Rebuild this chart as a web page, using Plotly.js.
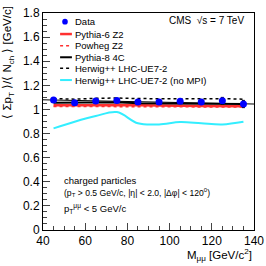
<!DOCTYPE html>
<html><head><meta charset="utf-8">
<script src="https://cdn.plot.ly/plotly-3.0.1.min.js"></script>
<style>html,body{margin:0;padding:0;background:#fff}#c{width:266px;height:266px}</style>
</head><body><div id="c"></div>
<script>
const mass = [45, 55, 65, 75, 85, 95, 105, 115, 125, 135];
const dataY = [1.078, 1.056, 1.070, 1.075, 1.061, 1.061, 1.067, 1.061, 1.072, 1.045];
const dataErr = [0.012, 0.010, 0.010, 0.012, 0.012, 0.012, 0.014, 0.018, 0.028, 0.030];
const pythia6 = [1.035, 1.033, 1.035, 1.037, 1.033, 1.030, 1.030, 1.028, 1.028, 1.027];
const powheg = [1.025, 1.024, 1.025, 1.027, 1.024, 1.022, 1.021, 1.020, 1.020, 1.020];
const pythia8 = [1.055, 1.055, 1.058, 1.060, 1.052, 1.050, 1.048, 1.047, 1.046, 1.045];
const herwig = [1.090, 1.085, 1.092, 1.095, 1.090, 1.088, 1.090, 1.088, 1.090, 1.085];
const herwigNoMPI = [0.843, 0.898, 0.945, 0.978, 0.885, 0.876, 0.895, 0.885, 0.876, 0.898];
const fitX = [40, 140];
const fitY = [1.080, 1.045];
const legendNames = ['Data', 'Pythia-6 Z2', 'Powheg Z2', 'Pythia-8 4C', 'Herwig++ LHC-UE7-2', 'Herwig++ LHC-UE7-2 (no MPI)'];

const font = "Liberation Sans, Arial, sans-serif";
const styles = [
  null,
  {color: '#ff3030', width: 2.5},
  {color: '#ff3030', width: 1.5, dash: 'dot'},
  {color: 'black', width: 2},
  {color: 'black', width: 1.5, dash: 'dot'},
  {color: '#33eeff', width: 2}
];
const series = [null, pythia6, powheg, pythia8, herwig, herwigNoMPI];

const traces = [
  {x: fitX, y: fitY, mode: 'lines', line: {color: 'black', width: 1}, hoverinfo: 'skip'}
];
for (let i = 1; i < series.length; i++) {
  traces.push({x: mass, y: series[i], mode: 'lines', name: legendNames[i],
    line: Object.assign({}, styles[i], i === 5 ? {shape: 'spline'} : {})});
}
traces.push({x: mass, y: dataY, mode: 'markers', name: legendNames[0], marker: {color: '#0000ff', size: 7},
   error_y: {type: 'data', array: dataErr, color: 'black', thickness: 1, width: 1.5}});

// manual legend (compact ROOT-like spacing)
const rowY = [0.960, 0.903, 0.849, 0.796, 0.745, 0.691];
const shapes = [];
const annotations = [];
legendNames.forEach((n, i) => {
  annotations.push({xref: 'paper', yref: 'paper', x: 0.142, y: rowY[i], xanchor: 'left', yanchor: 'middle',
    showarrow: false, text: n, font: {size: 9.5}});
  if (i === 0) {
    shapes.push({type: 'circle', xref: 'paper', yref: 'paper', x0: 0.091, x1: 0.1175,
      y0: rowY[i] - 0.0135, y1: rowY[i] + 0.0135, fillcolor: '#0000ff', line: {width: 0}});
  } else {
    shapes.push({type: 'line', xref: 'paper', yref: 'paper', x0: 0.081, x1: 0.137, y0: rowY[i], y1: rowY[i],
      line: styles[i]});
  }
});

annotations.push(
  {xref: 'paper', yref: 'paper', x: 0.96, y: 0.965, xanchor: 'right', yanchor: 'middle', showarrow: false,
   text: 'CMS  √s = 7 TeV', font: {size: 10}},
  {xref: 'paper', yref: 'paper', x: 0.09, y: 0.23, xanchor: 'left', yanchor: 'middle', showarrow: false,
   text: 'charged particles', font: {size: 9.5}},
  {xref: 'paper', yref: 'paper', x: 0.09, y: 0.172, xanchor: 'left', yanchor: 'middle', showarrow: false,
   text: '(p<sub>T</sub> > 0.5 GeV/c, |η| < 2.0, |Δφ| < 120<sup>0</sup>)', font: {size: 8.6}},
  {xref: 'paper', yref: 'paper', x: 0.09, y: 0.10, xanchor: 'left', yanchor: 'middle', showarrow: false,
   text: 'p<sub>T</sub><sup>μμ</sup> < 5 GeV/c', font: {size: 9.5}},
  {xref: 'paper', yref: 'paper', x: 1.0, y: 0, yshift: -25, xanchor: 'right', yanchor: 'middle', showarrow: false,
   text: 'M<sub>μμ</sub> [GeV/c<sup>2</sup>]', font: {size: 11.5}},
  {xref: 'paper', yref: 'paper', x: 0, xshift: -35, y: 1.04, xanchor: 'center', yanchor: 'top', showarrow: false,
   textangle: -90, text: '⟨ Σp<sub>T</sub> ⟩/⟨ N<sub>ch</sub> ⟩ [GeV/c]', font: {size: 11.5}}
);

const layout = {
  width: 266, height: 266,
  margin: {l: 43, r: 12, t: 13, b: 36},
  paper_bgcolor: 'white', plot_bgcolor: 'white',
  font: {family: font, size: 12, color: 'black'},
  showlegend: false,
  xaxis: {range: [40, 140], dtick: 20, tick0: 40, ticks: 'inside', ticklen: 7, showgrid: false, zeroline: false,
          showline: true, linecolor: 'black', linewidth: 1, mirror: true,
          minor: {ticks: 'inside', ticklen: 4, dtick: 5, showgrid: false},
          tickfont: {size: 12}},
  yaxis: {range: [0, 1.8], dtick: 0.2, ticks: 'inside', ticklen: 7, showgrid: false, zeroline: false,
          showline: true, linecolor: 'black', linewidth: 1, mirror: true,
          minor: {ticks: 'inside', ticklen: 4, dtick: 0.05, showgrid: false},
          tickfont: {size: 12}},
  shapes: shapes,
  annotations: annotations
};
Plotly.newPlot('c', traces, layout, {displayModeBar: false, staticPlot: true});
</script></body></html>
